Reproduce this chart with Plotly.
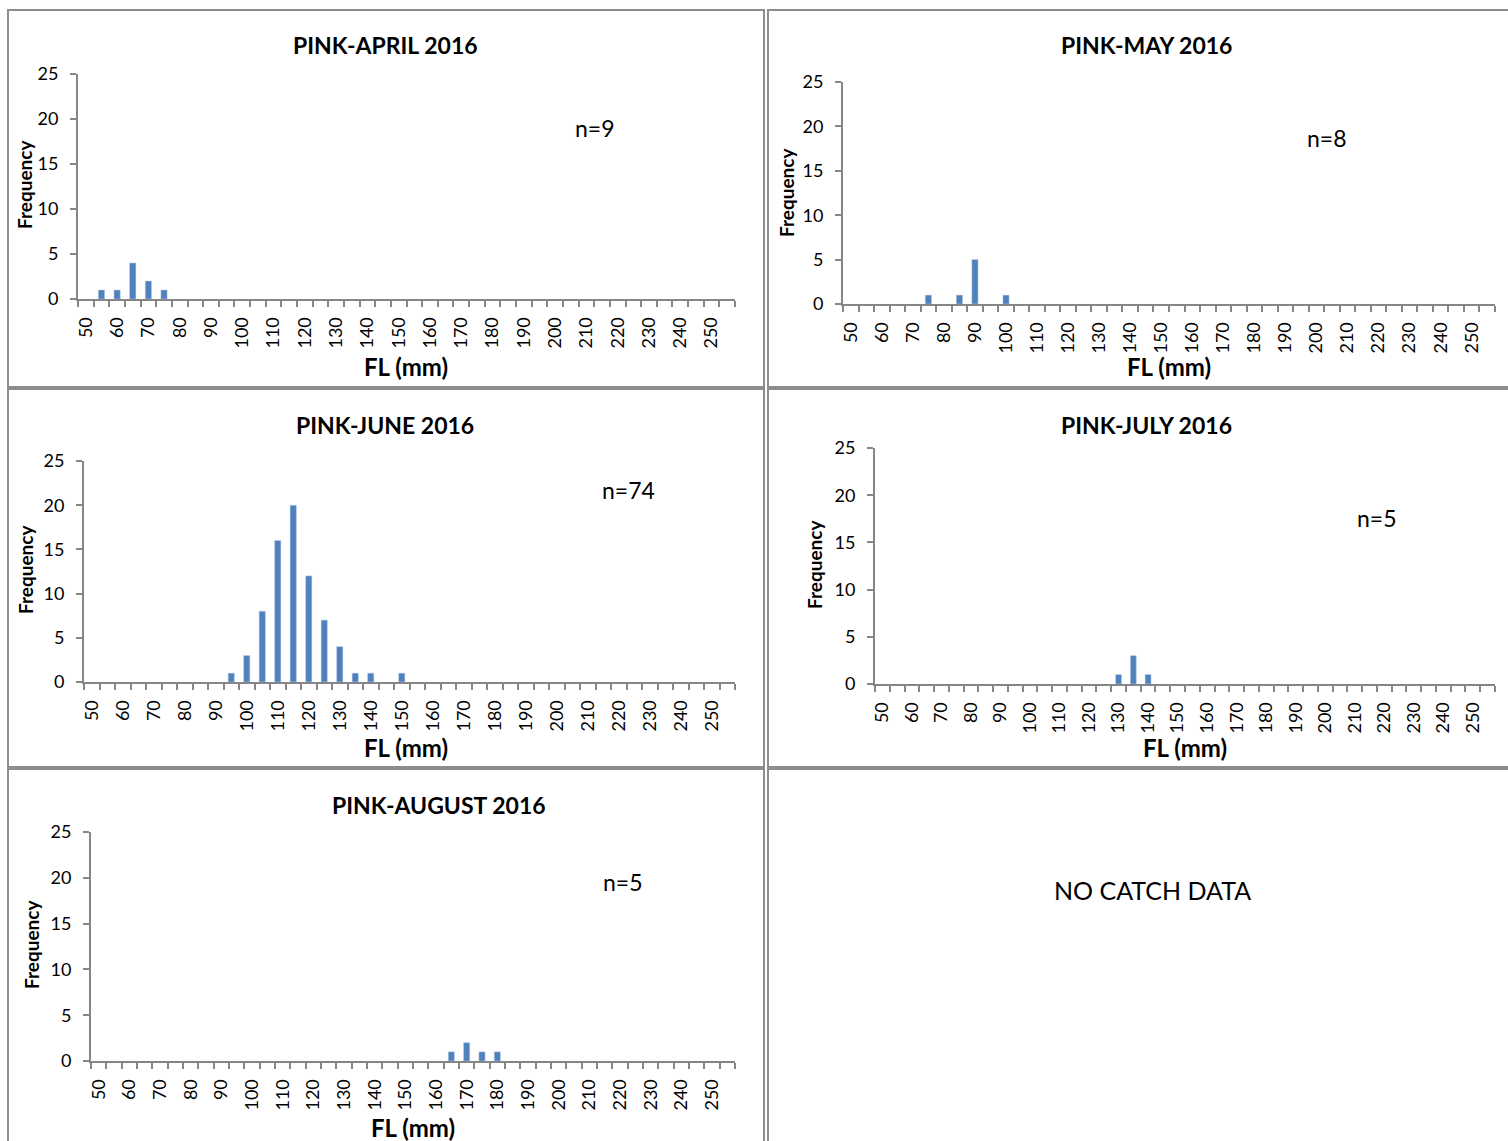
import plotly.graph_objects as go

# Bin labels (FL mm), plus Excel "More" bin
bins = list(range(50, 255, 5))
bins_more = bins + [255]

april = {55: 1, 60: 1, 65: 4, 70: 2, 75: 1}
may = {75: 1, 85: 1, 90: 5, 100: 1}
june = {95: 1, 100: 3, 105: 8, 110: 16, 115: 20, 120: 12, 125: 7, 130: 4, 135: 1, 140: 1, 150: 1}
july = {130: 1, 135: 3, 140: 1}
august = {165: 1, 170: 2, 175: 1, 180: 1}

titles = ["PINK-APRIL 2016", "PINK-MAY 2016", "PINK-JUNE 2016", "PINK-JULY 2016", "PINK-AUGUST 2016"]
n_labels = ["n=9", "n=8", "n=74", "n=5", "n=5"]
series = [april, may, june, july, august]
tick_vals = list(range(50, 260, 10))
y_ticks = [0, 5, 10, 15, 20, 25]

W, H = 1508, 1141
FONT = "Lato"

def fx(px):
    return px / W

def fy(py):
    return 1 - py / H

# plot areas in reference pixels: x0, x1, ytop, ybottom
areas = [
    (78, 735, 74, 299),
    (843, 1495, 82, 304),
    (84, 735, 461, 682),
    (875, 1495, 448, 684),
    (91, 735, 832, 1061),
]
title_pos = [(385, 45), (1146, 45), (385, 425), (1146, 425), (439, 805)]
n_pos = [(595, 128), (1327, 138), (628, 490), (1377, 518), (623, 882)]
freq_pos = [(25, 185), (786, 193), (25, 570), (815, 565), (31, 945)]
fl_pos = [(406, 367), (1169, 367), (406, 747), (1185, 747), (413, 1127)]

fig = go.Figure()
layout = dict(
    width=W, height=H,
    margin=dict(l=0, r=0, t=0, b=0, pad=0, autoexpand=False),
    paper_bgcolor="white", plot_bgcolor="white", showlegend=False,
    font=dict(family=FONT, color="black"),
)
annotations = []
shapes = []
axis_color = "#868686"

for i, (data, area) in enumerate(zip(series, areas)):
    k = "" if i == 0 else str(i + 1)
    xs = list(data.keys())
    ys = list(data.values())
    fig.add_trace(go.Bar(
        x=xs, y=ys, width=2.0,
        marker=dict(color="#4F81BD", line=dict(color="#B9CDE5", width=0.5)),
        xaxis="x" + k, yaxis="y" + k,
    ))
    x0, x1, yt, yb = area
    layout["xaxis" + k] = dict(
        domain=[fx(x0), fx(x1)], anchor="y" + k, automargin=False,
        range=[bins_more[0] - 2.5, bins_more[-1] + 2.5],
        tickmode="array", tickvals=tick_vals, ticktext=[str(v) for v in tick_vals],
        tickangle=-90, ticks="", ticklabelstandoff=9, showgrid=False, zeroline=False,
        showline=True, linecolor=axis_color, linewidth=2,
        tickfont=dict(size=18, family=FONT),
        minor=dict(tick0=47.5, dtick=5, ticks="outside", ticklen=6,
                   tickcolor=axis_color, tickwidth=2, showgrid=False),
        fixedrange=True,
    )
    layout["yaxis" + k] = dict(
        domain=[fy(yb), fy(yt)], anchor="x" + k, automargin=False,
        range=[0, 25], tickvals=y_ticks, ticks="outside", ticklen=6,
        ticklabelstandoff=8,
        tickcolor=axis_color, tickwidth=2,
        showgrid=False, zeroline=False,
        showline=True, linecolor=axis_color, linewidth=2,
        tickfont=dict(size=18, family=FONT),
        fixedrange=True,
    )
    common = dict(xref="paper", yref="paper", showarrow=False,
                  xanchor="center", yanchor="middle")
    tx, ty = title_pos[i]
    annotations.append(dict(x=fx(tx), y=fy(ty), text="<b>" + titles[i] + "</b>",
                            font=dict(size=23, family=FONT), **common))
    nx, ny = n_pos[i]
    annotations.append(dict(x=fx(nx), y=fy(ny), text=n_labels[i],
                            font=dict(size=23, family=FONT), **common))
    qx, qy = freq_pos[i]
    annotations.append(dict(x=fx(qx), y=fy(qy), text="<b>Frequency</b>", textangle=-90,
                            font=dict(size=19, family=FONT), **common))
    lx, ly = fl_pos[i]
    annotations.append(dict(x=fx(lx), y=fy(ly), text="<b>FL (mm)</b>",
                            font=dict(size=24, family=FONT), **common))

annotations.append(dict(x=fx(1152), y=fy(890), xref="paper", yref="paper",
                        text="NO CATCH DATA", showarrow=False,
                        xanchor="center", yanchor="middle",
                        font=dict(size=25, family=FONT)))

cells = [
    (8, 764, 10, 387), (768, 1512, 10, 387),
    (8, 764, 389, 767), (768, 1512, 389, 767),
    (8, 764, 769, 1150), (768, 1512, 769, 1150),
]
for (a, b, c, d) in cells:
    shapes.append(dict(type="rect", xref="paper", yref="paper",
                       x0=fx(a), x1=fx(b), y0=fy(d), y1=fy(c),
                       line=dict(color="#8C8C8C", width=2)))

layout["annotations"] = annotations
layout["shapes"] = shapes
fig.update_layout(**layout)
fig.write_html(
    "out.html",
    config={"displayModeBar": False},
    post_script="document.body.style.margin='0';document.body.style.overflow='hidden';",
)
